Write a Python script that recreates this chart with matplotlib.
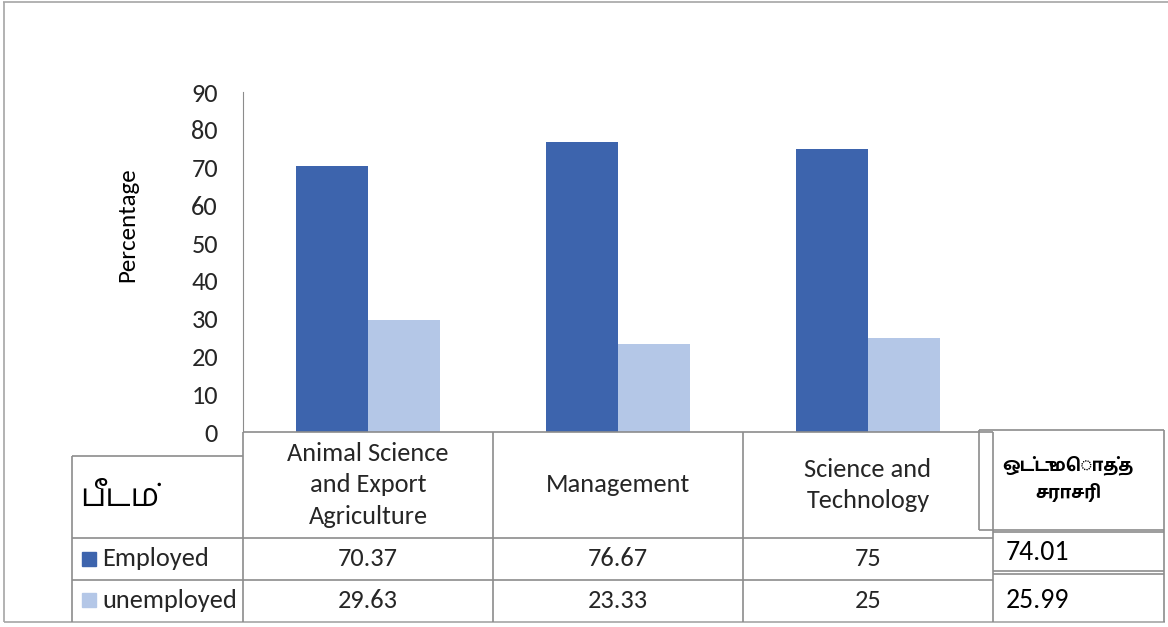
import matplotlib
matplotlib.use('Agg')
import matplotlib.pyplot as plt
from matplotlib.patches import Rectangle

plt.rcParams['font.family'] = ['Carlito', 'Lato', 'DejaVu Sans']

categories = ['Animal Science\nand Export\nAgriculture', 'Management', 'Science and\nTechnology']
series_names = ['Employed', 'unemployed']
employed = [70.37, 76.67, 75]
unemployed = [29.63, 23.33, 25]
employed_labels = ['70.37', '76.67', '75']
unemployed_labels = ['29.63', '23.33', '25']
overall = ['74.01', '25.99']
yticks = [0, 10, 20, 30, 40, 50, 60, 70, 80, 90]
faculty_label = 'பீடம்'
overall_label = 'ஒட்டுமொத்த\nசராசரி'

c_emp = '#3D64AD'
c_unemp = '#B4C7E7'
grid = '#8c8c8c'
txt = '#262626'
tamil = ['Hind Madurai', 'Noto Sans Tamil', 'DejaVu Sans']

W, H = 1168, 627
fig = plt.figure(figsize=(W / 100, H / 100), dpi=100)

# chart area (pixel layout converted to figure fractions)
ax = fig.add_axes([243 / W, 1 - 432 / H, 750 / W, 340 / H])
x = list(range(len(categories)))
bw = 0.288
ax.bar([i - bw / 2 for i in x], employed, bw, color=c_emp)
ax.bar([i + bw / 2 for i in x], unemployed, bw, color=c_unemp)
ax.set_xlim(-0.5, len(categories) - 0.5)
ax.set_ylim(0, 90)
ax.set_yticks(yticks)
ax.tick_params(axis='y', length=0, pad=18, labelsize=19, labelcolor=txt)
ax.set_xticks([])
for s in ['top', 'right', 'bottom']:
    ax.spines[s].set_visible(False)
ax.spines['left'].set_color(grid)
ax.set_ylabel('Percentage', fontsize=18, color='black')
ax.yaxis.set_label_coords(-0.14, 0.61)

# overlay in pixel coordinates for the data table
ov = fig.add_axes([0, 0, 1, 1])
ov.set_xlim(0, W)
ov.set_ylim(H, 0)
ov.axis('off')

def line(x0, y0, x1, y1, c=grid, lw=1.2):
    ov.plot([x0, x1], [y0, y1], color=c, lw=lw, solid_capstyle='butt')

# outer frame
line(3, 2, W, 2, c='#a6a6a6')
line(4, 2, 4, 622, c='#a6a6a6')
line(4, 622, 1165, 622, c='#a6a6a6')

col_x = [243, 493, 743, 993]
line(243, 432, 993, 432)
for cx in col_x:
    line(cx, 432, cx, 622)
line(72, 456, 243, 456)
line(72, 456, 72, 622)
line(72, 538, 993, 538)
line(72, 580, 993, 580)

# right summary boxes
line(979, 430, 1164, 430)
line(979, 430, 979, 530)
line(1164, 430, 1164, 622)
line(979, 530, 1164, 530)
line(993, 532, 1164, 532)
line(993, 571, 1164, 571)
line(993, 574, 1164, 574)

for i, cat in enumerate(categories):
    cx = (col_x[i] + col_x[i + 1]) / 2
    ov.text(cx, 485, cat, ha='center', va='center', fontsize=19,
            linespacing=1.45, color=txt)
    ov.text(cx, 559, employed_labels[i], ha='center', va='center', fontsize=19, color=txt)
    ov.text(cx, 601, unemployed_labels[i], ha='center', va='center', fontsize=19, color=txt)

ov.text(80, 497, faculty_label, ha='left', va='center', fontsize=23, family=tamil)

for name, col, yc in zip(series_names, [c_emp, c_unemp], [559, 600]):
    ov.add_patch(Rectangle((82, yc - 7), 14, 14, color=col))
    ov.text(102, yc, name, ha='left', va='center', fontsize=19, color=txt)

ov.text(1068, 478, overall_label, ha='center', va='center', fontsize=13,
        fontweight='bold', linespacing=1.5, family=tamil)
ov.text(1006, 552, overall[0], ha='left', va='center', fontsize=20, color='black')
ov.text(1006, 600, overall[1], ha='left', va='center', fontsize=20, color='black')

fig.savefig('out.png', dpi=100)
